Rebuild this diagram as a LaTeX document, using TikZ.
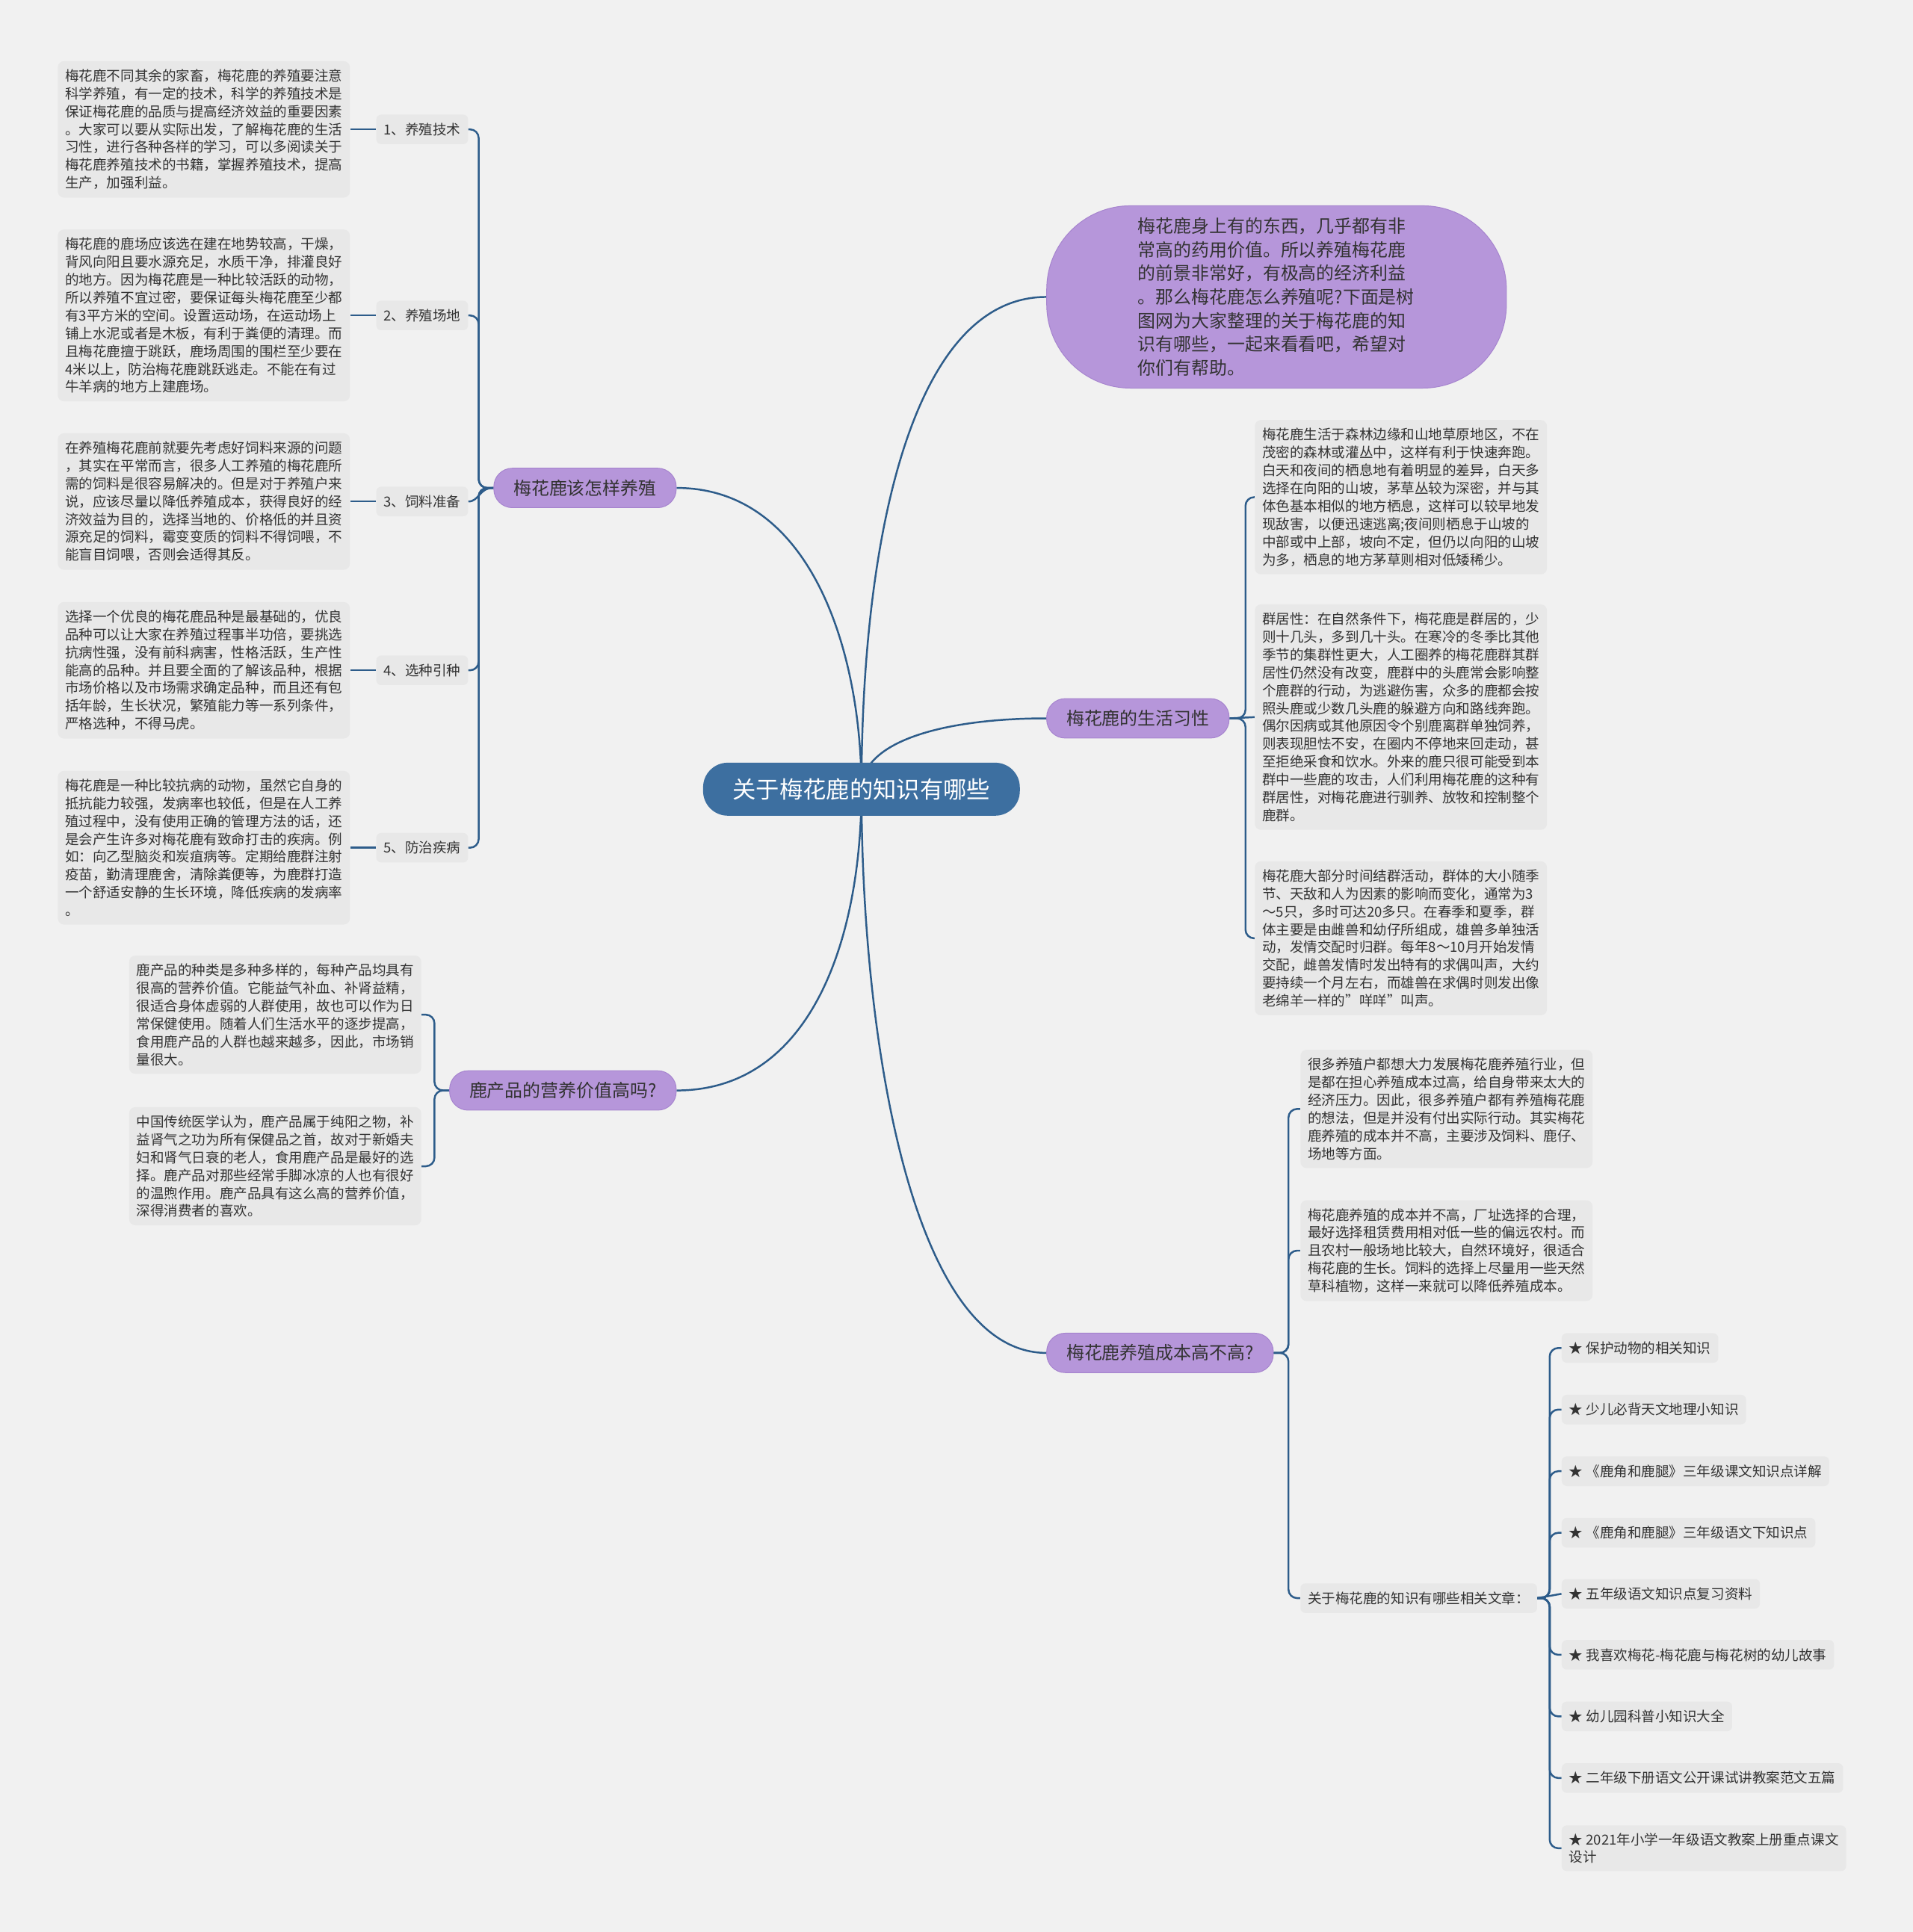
\documentclass[tikz,border=0pt]{standalone}
\usepackage{fontspec}
\setmainfont{Noto Sans CJK SC}
\usepackage{tikz}
\usetikzlibrary{positioning}
\usepackage{xcolor}
\definecolor{bggray}{RGB}{241,241,241}
\definecolor{boxgray}{RGB}{232,232,232}
\definecolor{topicpurple}{RGB}{182,150,218}
\definecolor{topicedge}{RGB}{166,132,206}
\definecolor{hubblue}{RGB}{61,111,160}
\definecolor{linkblue}{RGB}{45,92,138}
\definecolor{ink}{RGB}{51,51,51}
\newcommand\txtfont{\fontsize{11.25bp}{14.5bp}\selectfont}
\newcommand\topfont{\fontsize{14.5bp}{19.2bp}\selectfont}
\newcommand\hubfont{\fontsize{19bp}{24bp}\selectfont}
\pgfdeclarelayer{background}
\pgfsetlayers{background,main}

\begin{document}
\begin{tikzpicture}[x=1bp, y=-1bp,
  hubnode/.style={fill=hubblue, text=white, rounded corners=20bp, minimum height=43bp, inner xsep=24bp, font=\hubfont},
  topicnode/.style={fill=topicpurple, draw=topicedge, line width=0.6bp, rounded corners=15bp, minimum height=32bp, inner xsep=16bp, text=ink, font=\topfont},
  subtag/.style={fill=boxgray, rounded corners=4bp, minimum height=24bp, inner xsep=6bp, text=ink, font=\txtfont},
  notebox/.style={fill=boxgray, rounded corners=5bp, text width=225bp, align=left, inner xsep=6bp, inner ysep=6.5bp, text=ink, font=\txtfont},
  linkline/.style={draw=linkblue, line width=1.5bp},
  bracket/.style={linkline, rounded corners=7bp}]

  % canvas
  \begin{pgfonlayer}{background}
    \fill[bggray] (0,0) rectangle (1552,1568);
  \end{pgfonlayer}
  \useasboundingbox (0,0) rectangle (1552,1568);

  % root
  \node[hubnode] (root) at (699,640.5) {关于梅花鹿的知识有哪些};

  % main topics
  \node[topicnode, anchor=east] (raise) at (549,396) {梅花鹿该怎样养殖};
  \node[topicnode, anchor=east] (product) at (549,885) {鹿产品的营养价值高吗?};
  \node[topicnode, anchor=west] (habit) at (849,583) {梅花鹿的生活习性};
  \node[topicnode, anchor=west] (cost) at (849,1098) {梅花鹿养殖成本高不高?};
  \node[topicnode, anchor=west, text width=225bp, align=left, minimum width=373bp, minimum height=148bp, rounded corners=68bp] (intro) at (849,241) {梅花鹿身上有的东西，几乎都有非\\常高的药用价值。所以养殖梅花鹿\\的前景非常好，有极高的经济利益\\。那么梅花鹿怎么养殖呢?下面是树\\图网为大家整理的关于梅花鹿的知\\识有哪些，一起来看看吧，希望对\\你们有帮助。};

  % how to raise
  \node[subtag, anchor=east] (tech) at (380,105) {1、养殖技术};
  \node[subtag, anchor=east] (site) at (380,256) {2、养殖场地};
  \node[subtag, anchor=east] (feed) at (380,407) {3、饲料准备};
  \node[subtag, anchor=east] (breed) at (380,544) {4、选种引种};
  \node[subtag, anchor=east] (cure) at (380,688) {5、防治疾病};
  \node[notebox, left=21bp of tech] (techtxt) {梅花鹿不同其余的家畜，梅花鹿的养殖要注意\\科学养殖，有一定的技术，科学的养殖技术是\\保证梅花鹿的品质与提高经济效益的重要因素\\。大家可以要从实际出发，了解梅花鹿的生活\\习性，进行各种各样的学习，可以多阅读关于\\梅花鹿养殖技术的书籍，掌握养殖技术，提高\\生产，加强利益。};
  \node[notebox, left=21bp of site] (sitetxt) {梅花鹿的鹿场应该选在建在地势较高，干燥，\\背风向阳且要水源充足，水质干净，排灌良好\\的地方。因为梅花鹿是一种比较活跃的动物，\\所以养殖不宜过密，要保证每头梅花鹿至少都\\有3平方米的空间。设置运动场，在运动场上\\铺上水泥或者是木板，有利于粪便的清理。而\\且梅花鹿擅于跳跃，鹿场周围的围栏至少要在\\4米以上，防治梅花鹿跳跃逃走。不能在有过\\牛羊病的地方上建鹿场。};
  \node[notebox, left=21bp of feed] (feedtxt) {在养殖梅花鹿前就要先考虑好饲料来源的问题\\，其实在平常而言，很多人工养殖的梅花鹿所\\需的饲料是很容易解决的。但是对于养殖户来\\说，应该尽量以降低养殖成本，获得良好的经\\济效益为目的，选择当地的、价格低的并且资\\源充足的饲料，霉变变质的饲料不得饲喂，不\\能盲目饲喂，否则会适得其反。};
  \node[notebox, left=21bp of breed] (breedtxt) {选择一个优良的梅花鹿品种是最基础的，优良\\品种可以让大家在养殖过程事半功倍，要挑选\\抗病性强，没有前科病害，性格活跃，生产性\\能高的品种。并且要全面的了解该品种，根据\\市场价格以及市场需求确定品种，而且还有包\\括年龄，生长状况，繁殖能力等一系列条件，\\严格选种，不得马虎。};
  \node[notebox, left=21bp of cure] (curetxt) {梅花鹿是一种比较抗病的动物，虽然它自身的\\抵抗能力较强，发病率也较低，但是在人工养\\殖过程中，没有使用正确的管理方法的话，还\\是会产生许多对梅花鹿有致命打击的疾病。例\\如：向乙型脑炎和炭疽病等。定期给鹿群注射\\疫苗，勤清理鹿舍，清除粪便等，为鹿群打造\\一个舒适安静的生长环境，降低疾病的发病率\\。};

  % deer products
  \node[notebox, anchor=east] (prod1) at (342,823.5) {鹿产品的种类是多种多样的，每种产品均具有\\很高的营养价值。它能益气补血、补肾益精，\\很适合身体虚弱的人群使用，故也可以作为日\\常保健使用。随着人们生活水平的逐步提高，\\食用鹿产品的人群也越来越多，因此，市场销\\量很大。};
  \node[notebox, anchor=east] (prod2) at (342,946.5) {中国传统医学认为，鹿产品属于纯阳之物，补\\益肾气之功为所有保健品之首，故对于新婚夫\\妇和肾气日衰的老人，食用鹿产品是最好的选\\择。鹿产品对那些经常手脚冰凉的人也有很好\\的温煦作用。鹿产品具有这么高的营养价值，\\深得消费者的喜欢。};

  % habits
  \node[notebox, anchor=west] (hab1) at (1018,403.5) {梅花鹿生活于森林边缘和山地草原地区，不在\\茂密的森林或灌丛中，这样有利于快速奔跑。\\白天和夜间的栖息地有着明显的差异，白天多\\选择在向阳的山坡，茅草丛较为深密，并与其\\体色基本相似的地方栖息，这样可以较早地发\\现敌害，以便迅速逃离;夜间则栖息于山坡的\\中部或中上部，坡向不定，但仍以向阳的山坡\\为多，栖息的地方茅草则相对低矮稀少。};
  \node[notebox, anchor=west] (hab2) at (1018,582) {群居性：在自然条件下，梅花鹿是群居的，少\\则十几头，多到几十头。在寒冷的冬季比其他\\季节的集群性更大，人工圈养的梅花鹿群其群\\居性仍然没有改变，鹿群中的头鹿常会影响整\\个鹿群的行动，为逃避伤害，众多的鹿都会按\\照头鹿或少数几头鹿的躲避方向和路线奔跑。\\偶尔因病或其他原因令个别鹿离群单独饲养，\\则表现胆怯不安，在圈内不停地来回走动，甚\\至拒绝采食和饮水。外来的鹿只很可能受到本\\群中一些鹿的攻击，人们利用梅花鹿的这种有\\群居性，对梅花鹿进行驯养、放牧和控制整个\\鹿群。};
  \node[notebox, anchor=west] (hab3) at (1018,761.5) {梅花鹿大部分时间结群活动，群体的大小随季\\节、天敌和人为因素的影响而变化，通常为3\\～5只，多时可达20多只。在春季和夏季，群\\体主要是由雌兽和幼仔所组成，雄兽多单独活\\动，发情交配时归群。每年8～10月开始发情\\交配，雌兽发情时发出特有的求偶叫声，大约\\要持续一个月左右，而雄兽在求偶时则发出像\\老绵羊一样的"咩咩"叫声。};

  % cost
  \node[notebox, anchor=west] (cost1) at (1055,900) {很多养殖户都想大力发展梅花鹿养殖行业，但\\是都在担心养殖成本过高，给自身带来太大的\\经济压力。因此，很多养殖户都有养殖梅花鹿\\的想法，但是并没有付出实际行动。其实梅花\\鹿养殖的成本并不高，主要涉及饲料、鹿仔、\\场地等方面。};
  \node[notebox, anchor=west] (cost2) at (1055,1015) {梅花鹿养殖的成本并不高，厂址选择的合理，\\最好选择租赁费用相对低一些的偏远农村。而\\且农村一般场地比较大，自然环境好，很适合\\梅花鹿的生长。饲料的选择上尽量用一些天然\\草科植物，这样一来就可以降低养殖成本。};
  \node[subtag, anchor=west] (rel) at (1055,1297) {关于梅花鹿的知识有哪些相关文章：};

  % related articles
  \node[subtag, anchor=west] (art1) at (1267,1094) {★ 保护动物的相关知识};
  \node[subtag, anchor=west] (art2) at (1267,1144) {★ 少儿必背天文地理小知识};
  \node[subtag, anchor=west] (art3) at (1267,1194) {★ 《鹿角和鹿腿》三年级课文知识点详解};
  \node[subtag, anchor=west] (art4) at (1267,1244) {★ 《鹿角和鹿腿》三年级语文下知识点};
  \node[subtag, anchor=west] (art5) at (1267,1293.5) {★ 五年级语文知识点复习资料};
  \node[subtag, anchor=west] (art6) at (1267,1343) {★ 我喜欢梅花-梅花鹿与梅花树的幼儿故事};
  \node[subtag, anchor=west] (art7) at (1267,1393) {★ 幼儿园科普小知识大全};
  \node[subtag, anchor=west] (art8) at (1267,1443) {★ 二年级下册语文公开课试讲教案范文五篇};
  \node[subtag, anchor=west, align=left, inner ysep=6bp] (art9) at (1267,1500) {★ 2021年小学一年级语文教案上册重点课文\\设计};

  \begin{pgfonlayer}{background}
    % root to main topics
    \draw[linkline] (root.center) .. controls +(0,-110) and +(110,0) .. (raise.east);
    \draw[linkline] (root.center) .. controls +(0,-200) and +(-110,0) .. (intro.west);
    \draw[linkline] (root.center) .. controls +(0,-40) and +(-80,0) .. (habit.west);
    \draw[linkline] (root.center) .. controls +(0,200) and +(-110,0) .. (cost.west);
    \draw[linkline] (root.center) .. controls +(0,120) and +(110,0) .. (product.east);
    % how to raise
    \draw[bracket] (raise.west) -- ++(-12,0) |- (tech.east);
    \draw[bracket] (raise.west) -- ++(-12,0) |- (site.east);
    \draw[linkline] (raise.west) .. controls +(-12,0) and +(9,0) .. (feed.east);
    \draw[bracket] (raise.west) -- ++(-12,0) |- (breed.east);
    \draw[bracket] (raise.west) -- ++(-12,0) |- (cure.east);
    \draw[linkline] (tech.west) -- (techtxt.east);
    \draw[linkline] (site.west) -- (sitetxt.east);
    \draw[linkline] (feed.west) -- (feedtxt.east);
    \draw[linkline] (breed.west) -- (breedtxt.east);
    \draw[linkline] (cure.west) -- (curetxt.east);
    % deer products
    \draw[bracket] (product.west) -- ++(-12,0) |- (prod1.east);
    \draw[bracket] (product.west) -- ++(-12,0) |- (prod2.east);
    % habits
    \draw[bracket] (habit.east) -- ++(13,0) |- (hab1.west);
    \draw[linkline] (habit.east) -- (hab2.west);
    \draw[bracket] (habit.east) -- ++(13,0) |- (hab3.west);
    % cost
    \draw[bracket] (cost.east) -- ++(12,0) |- (cost1.west);
    \draw[bracket] (cost.east) -- ++(12,0) |- (cost2.west);
    \draw[bracket] (cost.east) -- ++(12,0) |- (rel.west);
    % related articles
    \draw[bracket] (rel.east) -- ++(10,0) |- (art1.west);
    \draw[bracket] (rel.east) -- ++(10,0) |- (art2.west);
    \draw[bracket] (rel.east) -- ++(10,0) |- (art3.west);
    \draw[bracket] (rel.east) -- ++(10,0) |- (art4.west);
    \draw[linkline] (rel.east) -- (art5.west);
    \draw[bracket] (rel.east) -- ++(10,0) |- (art6.west);
    \draw[bracket] (rel.east) -- ++(10,0) |- (art7.west);
    \draw[bracket] (rel.east) -- ++(10,0) |- (art8.west);
    \draw[bracket] (rel.east) -- ++(10,0) |- (art9.west);
  \end{pgfonlayer}
\end{tikzpicture}
\end{document}
